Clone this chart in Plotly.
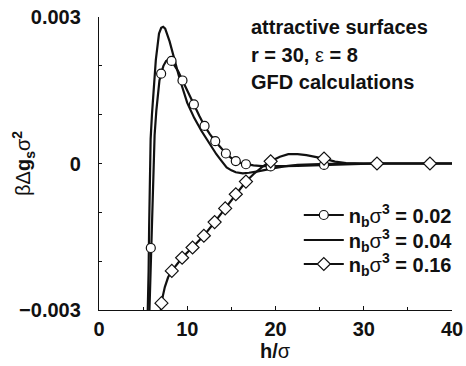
import plotly.graph_objects as go

# ---- data ----
h_002 = [5.62, 5.72, 5.8, 5.87, 5.95, 6.05, 6.15, 6.3, 6.5, 6.7, 6.85, 7.04, 7.3, 7.6, 7.9, 8.22,
         8.6, 9.0, 9.46, 10.1, 10.75, 11.36, 11.96, 12.56, 13.17, 13.8, 14.38, 15.0, 15.5, 16.1,
         16.65, 17.5, 18.5, 19.45, 21, 22.5, 24, 25.5, 27, 28.5, 30, 31.5, 34, 37.5, 40]
g_002 = [-0.0036, -0.0030, -0.0024, -0.00173, -0.00120, -0.00058, 0.00003, 0.00058, 0.00109,
         0.00150, 0.00170, 0.00184, 0.00200, 0.00210, 0.00213, 0.00210, 0.00200, 0.00188, 0.00170,
         0.00145, 0.00121, 0.00098, 0.00077, 0.00060, 0.000457, 0.00032, 0.000205, 0.00011,
         0.00005, 0.00001, -0.000015, -0.00004, -0.000055, -0.00006, -0.000055, -0.00005,
         -0.00004, -0.00003, -0.00002, -0.00001, -0.000005, 0, 0, 0, 0]

h_004 = [5.45, 5.55, 5.62, 5.68, 5.75, 5.85, 6.0, 6.2, 6.44, 6.8, 7.05, 7.27, 7.5, 8.0, 8.5, 9.16,
         10.0, 10.8, 11.6, 12.2, 12.76, 13.3, 13.9, 14.46, 15.0, 15.5, 16.3, 17.0, 18.0, 19.0,
         20.0, 21.0, 22.5, 25.0, 28.0, 40]
g_004 = [-0.0036, -0.0030, -0.0022, -0.0013, -0.0001, 0.0005, 0.0010, 0.00160, 0.00212, 0.00266,
         0.00278, 0.00280, 0.00276, 0.00250, 0.00214, 0.00172, 0.00124, 0.00093, 0.00067, 0.00049,
         0.00034, 0.00019, 0.00005, -0.00008, -0.00014, -0.00018, -0.00020, -0.00019, -0.00016,
         -0.00012, -0.00009, -0.00006, -0.00003, -0.00001, 0, 0]

h_016 = [6.85, 6.95, 7.08, 7.25, 7.46, 7.83, 8.25, 9.42, 10.6, 11.88, 13.1, 14.3, 15.5, 16.65,
         17.5, 18.5, 19.45, 20.5, 21.45, 22.5, 23.5, 24.5, 25.5, 26.75, 28, 30, 31.5, 34, 37.5, 40]
g_016 = [-0.0033, -0.0030, -0.00286, -0.0027, -0.00253, -0.00233, -0.00220, -0.00193, -0.00172,
         -0.00148, -0.00120, -0.00092, -0.00063, -0.00037, -0.00022, -0.00007, 0.000045, 0.00014,
         0.00019, 0.00019, 0.00017, 0.00014, 0.00010, 0.00004, 0.00001, 0, 0, 0, 0, 0]

hm_002 = [5.87, 7.04, 8.22, 9.46, 10.75, 11.96, 13.17, 14.38, 15.5, 16.65, 19.45, 25.5, 31.5, 37.5]
gm_002 = [-0.00173, 0.00184, 0.00210, 0.00170, 0.00121, 0.00077, 0.000457, 0.000205, 0.00005,
          -0.000015, -0.00006, -0.00003, 0, 0]

hm_016 = [7.08, 8.25, 9.42, 10.6, 11.88, 13.1, 14.3, 15.5, 16.65, 19.45, 25.5, 31.5, 37.5]
gm_016 = [-0.00286, -0.00220, -0.00193, -0.00172, -0.00148, -0.00120, -0.00092, -0.00063,
          -0.00037, 0.000045, 0.00010, 0, 0]

x_ticks = [0, 10, 20, 30, 40]
y_ticks = [-0.003, -0.002, -0.001, 0, 0.001, 0.002, 0.003]
y_ticktext = ["\u22120.003", "", "", "0", "", "", "0.003"]

labels = ["<b>n<sub>b</sub></b>\u03c3<b><sup>3</sup> = 0.02</b>",
          "<b>n<sub>b</sub></b>\u03c3<b><sup>3</sup> = 0.04</b>",
          "<b>n<sub>b</sub></b>\u03c3<b><sup>3</sup> = 0.16</b>"]

FONT = "Liberation Sans, Arial, Helvetica, sans-serif"
LC = "#111111"
LW = 2.2
FS = 20

fig = go.Figure()

# lines
fig.add_trace(go.Scatter(x=h_002, y=g_002, mode="lines", line=dict(color=LC, width=LW),
                         showlegend=False, hoverinfo="skip"))
fig.add_trace(go.Scatter(x=h_004, y=g_004, mode="lines", line=dict(color=LC, width=LW),
                         showlegend=False, hoverinfo="skip"))
fig.add_trace(go.Scatter(x=h_016, y=g_016, mode="lines", line=dict(color=LC, width=LW),
                         showlegend=False, hoverinfo="skip"))
# markers
fig.add_trace(go.Scatter(x=hm_002, y=gm_002, mode="markers",
                         marker=dict(symbol="circle", size=9, color="white",
                                     line=dict(color=LC, width=1.2)),
                         showlegend=False))
fig.add_trace(go.Scatter(x=hm_016, y=gm_016, mode="markers",
                         marker=dict(symbol="diamond", size=10, color="white",
                                     line=dict(color=LC, width=1.2)),
                         showlegend=False))
# legend entries (one legend per row)
fig.add_trace(go.Scatter(x=[None], y=[None], mode="lines+markers", name=labels[0],
                         line=dict(color=LC, width=LW), legend="legend",
                         marker=dict(symbol="circle", size=9, color="white",
                                     line=dict(color=LC, width=1.2))))
fig.add_trace(go.Scatter(x=[None], y=[None], mode="lines", name=labels[1],
                         line=dict(color=LC, width=LW), legend="legend2"))
fig.add_trace(go.Scatter(x=[None], y=[None], mode="lines+markers", name=labels[2],
                         line=dict(color=LC, width=LW), legend="legend3",
                         marker=dict(symbol="diamond", size=10, color="white",
                                     line=dict(color=LC, width=1.2))))

ann_font = dict(family=FONT, size=FS, color="#111111")
for txt, yy in [("<b>attractive surfaces</b>", 0.966),
                ("<b>r = 30, </b>\u03b5<b> = 8</b>", 0.872),
                ("<b>GFD calculations</b>", 0.779)]:
    fig.add_annotation(text=txt, xref="paper", yref="paper", x=0.425, y=yy,
                       xanchor="left", yanchor="middle", showarrow=False, font=ann_font)

# axis titles
fig.add_annotation(text="<b>h/</b>\u03c3", xref="paper", yref="paper", x=0.5, y=-0.14,
                   xanchor="center", yanchor="middle", showarrow=False, font=ann_font)
fig.add_annotation(text="\u03b2\u0394<b>g</b><sub><b>s</b></sub>\u03c3<sup><b>2</b></sup>",
                   xref="paper", yref="paper", x=-0.214, y=0.5, textangle=-90,
                   xanchor="center", yanchor="middle", showarrow=False, font=ann_font)

leg_common = dict(xanchor="left", yanchor="middle", bgcolor="rgba(0,0,0,0)",
                  font=dict(family=FONT, size=FS), itemwidth=40)
x_leg = 0.566
fig.update_layout(
    width=466, height=366,
    margin=dict(l=99, r=14, t=17, b=56, autoexpand=False),
    paper_bgcolor="white", plot_bgcolor="white",
    font=dict(family=FONT, size=FS, color="#111111"),
    legend=dict(x=x_leg, y=(310 - 215) / 293, **leg_common),
    legend2=dict(x=x_leg, y=(310 - 240) / 293, **leg_common),
    legend3=dict(x=x_leg, y=(310 - 264) / 293, **leg_common),
    xaxis=dict(range=[0, 40], tickvals=x_ticks, ticktext=[f"<b>{v}</b>" for v in x_ticks],
               ticks="inside", ticklen=4, tickwidth=1, tickcolor=LC, automargin=False,
               showline=True, linecolor=LC, linewidth=1.3, showgrid=False, zeroline=False,
               minor=dict(dtick=5, tick0=0, ticks="inside", ticklen=2.5, tickcolor=LC),
               ticklabelstandoff=1),
    yaxis=dict(range=[-0.003, 0.003], tickvals=y_ticks,
               ticktext=[f"<b>{t}</b>" if t else "" for t in y_ticktext],
               ticks="inside", ticklen=3, tickwidth=1, tickcolor=LC, automargin=False,
               showline=True, linecolor=LC, linewidth=1.3, showgrid=False, zeroline=False,
               ticklabelstandoff=13),
)

fig.write_html("out.html")
